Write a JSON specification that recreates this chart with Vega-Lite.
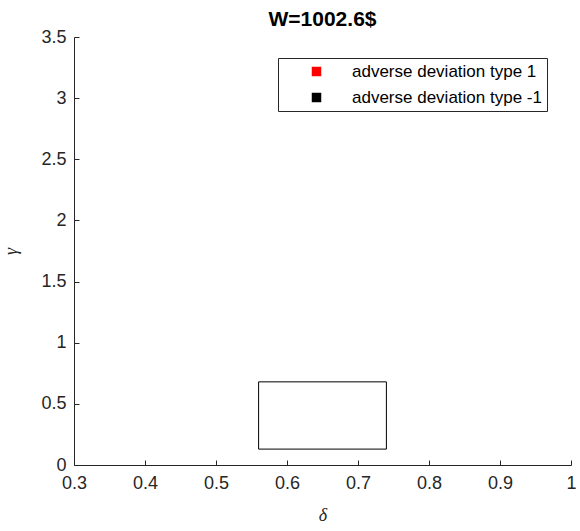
{
  "$schema": "https://vega.github.io/schema/vega-lite/v6.json",
  "width": 497,
  "height": 428,
  "autosize": {"type": "none"},
  "padding": {"left": 74, "top": 37, "right": 9, "bottom": 66},
  "background": "white",
  "config": {
    "view": {"stroke": null},
    "font": "Liberation Sans",
    "axis": {
      "grid": false,
      "domainColor": "#262626",
      "tickColor": "#262626",
      "labelColor": "#262626",
      "titleColor": "#262626",
      "labelFont": "Liberation Sans",
      "labelFontSize": 18,
      "labelFlush": false,
      "labelOverlap": false,
      "tickSize": -5,
      "domainWidth": 1,
      "tickWidth": 1
    }
  },
  "title": {
    "text": "W=1002.6$",
    "fontSize": 21,
    "fontWeight": "bold",
    "font": "Liberation Sans",
    "color": "black",
    "anchor": "middle",
    "offset": -2
  },
  "layer": [
    {
      "data": {"values": [{"x1": 0.56, "x2": 0.74, "y1": 0.13, "y2": 0.68}]},
      "mark": {"type": "rect", "fill": null, "fillOpacity": 0, "stroke": "black", "strokeWidth": 1},
      "encoding": {
        "x": {
          "field": "x1", "type": "quantitative",
          "scale": {"domain": [0.3, 1], "nice": false, "zero": false},
          "axis": {
            "values": [0.3, 0.4, 0.5, 0.6, 0.7, 0.8, 0.9, 1],
            "format": "~g",
            "title": "δ",
            "titleFont": "Liberation Serif",
            "titleFontStyle": "italic",
            "titleFontWeight": "normal",
            "titleFontSize": 18,
            "labelPadding": 14,
            "titlePadding": 14
          }
        },
        "x2": {"field": "x2"},
        "y": {
          "field": "y1", "type": "quantitative",
          "scale": {"domain": [0, 3.5], "nice": false},
          "axis": {
            "values": [0, 0.5, 1, 1.5, 2, 2.5, 3, 3.5],
            "format": "~g",
            "title": "γ",
            "titleFont": "Liberation Serif",
            "titleFontStyle": "italic",
            "titleFontWeight": "normal",
            "titleFontSize": 18,
            "labelPadding": 13,
            "titlePadding": 20
          }
        },
        "y2": {"field": "y2"}
      }
    },
    {
      "data": {"values": [
        {"x": null, "y": null, "type": "adverse deviation type 1"},
        {"x": null, "y": null, "type": "adverse deviation type -1"}
      ]},
      "mark": {"type": "square", "size": 90, "opacity": 1, "filled": true},
      "encoding": {
        "x": {"field": "x", "type": "quantitative"},
        "y": {"field": "y", "type": "quantitative"},
        "color": {
          "field": "type", "type": "nominal",
          "scale": {"domain": ["adverse deviation type 1", "adverse deviation type -1"], "range": ["#ff0000", "#000000"]},
          "legend": {
            "title": null,
            "orient": "none",
            "legendX": 204,
            "legendY": 21,
            "padding": 5,
            "strokeColor": "#262626",
            "fillColor": "white",
            "symbolType": "square",
            "symbolSize": 90,
            "symbolOffset": 25,
            "labelOffset": 27,
            "labelFontSize": 17,
            "labelLimit": 400,
            "labelFont": "Liberation Sans",
            "labelColor": "black",
            "rowPadding": 8
          }
        }
      }
    }
  ]
}
